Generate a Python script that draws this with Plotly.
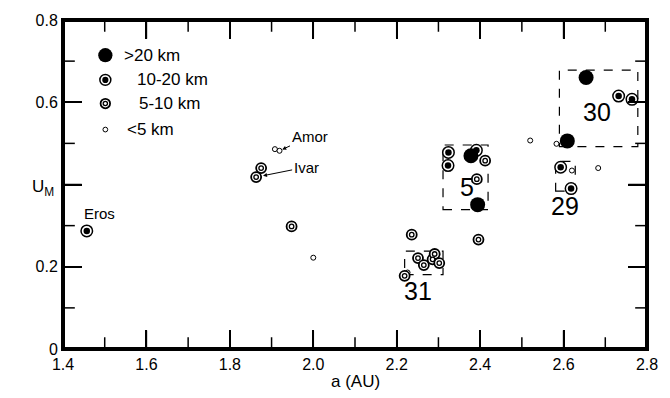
import plotly.graph_objects as go

# ---------------- data (semi-major axis a [AU], U_M) ----------------
# > 20 km
a_gt20 = [2.378, 2.394, 2.654, 2.609]
u_gt20 = [0.470, 0.351, 0.660, 0.506]
# 10-20 km
a_10_20 = [1.457, 2.324, 2.323, 2.391, 2.732, 2.764, 2.593, 2.618]
u_10_20 = [0.287, 0.478, 0.446, 0.483, 0.615, 0.607, 0.442, 0.390]
# 5-10 km
a_5_10 = [1.863, 1.875, 1.948, 2.236, 2.219, 2.396, 2.412, 2.392,
          2.251, 2.265, 2.286, 2.291, 2.302]
u_5_10 = [0.418, 0.440, 0.298, 0.278, 0.178, 0.266, 0.458, 0.413,
          0.221, 0.204, 0.218, 0.231, 0.209]
# < 5 km
a_lt5 = [1.908, 1.919, 2.000, 2.520, 2.583, 2.620, 2.683, 2.226]
u_lt5 = [0.486, 0.482, 0.222, 0.507, 0.499, 0.434, 0.440, 0.186]

# named objects
named = ["Eros", "Amor", "Ivar"]
named_a = [1.457, 1.919, 1.863]
named_u = [0.287, 0.482, 0.418]

# family groups (dashed boxes)
group_names = ["31", "5", "29", "30"]
group_a0 = [2.219, 2.311, 2.581, 2.590]
group_a1 = [2.311, 2.419, 2.628, 2.778]
group_u0 = [0.181, 0.339, 0.384, 0.492]
group_u1 = [0.238, 0.496, 0.456, 0.678]

legend_labels = [">20 km", "10-20 km", "5-10 km", "<5 km"]

x_ticks = [1.4, 1.6, 1.8, 2.0, 2.2, 2.4, 2.6, 2.8]
x_ticktext = ["1.4", "1.6", "1.8", "2.0", "2.2", "2.4", "2.6", "2.8"]
x_minor = [1.5, 1.7, 1.9, 2.1, 2.3, 2.5, 2.7]
y_ticks = [0, 0.2, 0.4, 0.6, 0.8]
y_ticktext = ["0", "0.2", "", "0.6", "0.8"]
y_minor = [0.1, 0.3, 0.5, 0.7]

X_RANGE = [1.4, 2.8]
Y_RANGE = [0, 0.8]

# ---------------- style ----------------
FONT = "Liberation Sans, Arial, sans-serif"
BLK = "#000000"
W, H = 670, 398
M = dict(l=63, r=14, t=13, b=49)
PW = W - M["l"] - M["r"]
PH = H - M["t"] - M["b"]
MAJ_LEN, MIN_LEN = 19, 12  # tick lengths in px

STYLES = {
    ">20 km": [(15, BLK, 0)],
    "10-20 km": [(11.5, "white", 1.5), (6.5, BLK, 0)],
    "5-10 km": [(10, "white", 1.8), (4.5, "white", 1.3)],
    "<5 km": [(5, "white", 1)],
}
DATA = {
    "<5 km": (a_lt5, u_lt5),
    "5-10 km": (a_5_10, u_5_10),
    "10-20 km": (a_10_20, u_10_20),
    ">20 km": (a_gt20, u_gt20),
}

fig = go.Figure()

# ---- frame and inside ticks (drawn from the axis ranges and tick lists) ----
dx_per_px = (X_RANGE[1] - X_RANGE[0]) / PW
dy_per_px = (Y_RANGE[1] - Y_RANGE[0]) / PH
tx, ty = [], []
for vals, L in ((x_ticks, MAJ_LEN), (x_minor, MIN_LEN)):
    for v in vals:
        tx += [v, v, None, v, v, None]
        ty += [Y_RANGE[0], Y_RANGE[0] + L * dy_per_px, None,
               Y_RANGE[1], Y_RANGE[1] - L * dy_per_px, None]
for vals, L in ((y_ticks, MAJ_LEN), (y_minor, MIN_LEN)):
    for v in vals:
        tx += [X_RANGE[0], X_RANGE[0] + L * dx_per_px, None,
               X_RANGE[1], X_RANGE[1] - L * dx_per_px, None]
        ty += [v, v, None, v, v, None]
fig.add_trace(go.Scatter(x=tx, y=ty, mode="lines", showlegend=False,
                         line=dict(color=BLK, width=1.5)))
fig.add_trace(go.Scatter(x=[X_RANGE[0], X_RANGE[1], X_RANGE[1], X_RANGE[0], X_RANGE[0]],
                         y=[Y_RANGE[0], Y_RANGE[0], Y_RANGE[1], Y_RANGE[1], Y_RANGE[0]],
                         mode="lines", showlegend=False, line=dict(color=BLK, width=4)))

# ---- data markers ----
for cls in ["<5 km", "5-10 km", "10-20 km", ">20 km"]:
    xs, ys = DATA[cls]
    for size, fill, lw in STYLES[cls]:
        fig.add_trace(go.Scatter(x=xs, y=ys, mode="markers", showlegend=False,
                                 marker=dict(size=size, color=fill,
                                             line=dict(color=BLK, width=lw))))

# ---- legend keys on an overlay axis spanning the plot area (0..1) ----
leg_x = 0.0725
leg_y = [0.893, 0.818, 0.746, 0.667]
leg_text_x = [0.101, 0.123, 0.126, 0.106]
for lab, ly in zip(legend_labels, leg_y):
    for size, fill, lw in STYLES[lab]:
        fig.add_trace(go.Scatter(x=[leg_x], y=[ly], xaxis="x2", yaxis="y2", mode="markers",
                                 showlegend=False,
                                 marker=dict(size=size * 0.95, color=fill,
                                             line=dict(color=BLK, width=lw))))

shapes = []
annotations = []

for x0, x1, y0, y1 in zip(group_a0, group_a1, group_u0, group_u1):
    shapes.append(dict(type="rect", xref="x", yref="y", x0=x0, x1=x1, y0=y0, y1=y1,
                       line=dict(color=BLK, width=1.2, dash="dash"), layer="below"))

group_label_pos = {
    "31": dict(x=2.250, y=0.140),
    "5": dict(x=2.368, y=0.395),
    "29": dict(x=2.604, y=0.348),
    "30": dict(x=2.680, y=0.576),
}
for name in group_names:
    p = group_label_pos[name]
    annotations.append(dict(x=p["x"], y=p["y"], xref="x", yref="y", text=name,
                            showarrow=False, font=dict(size=25, color=BLK)))

annotations.append(dict(x=named_a[0], y=named_u[0], xref="x", yref="y", text="Eros",
                        showarrow=False, xanchor="left", xshift=-5, yshift=17,
                        font=dict(size=15, color=BLK)))
annotations.append(dict(x=named_a[1], y=named_u[1], xref="x", yref="y", text="Amor",
                        showarrow=True, arrowhead=2, arrowsize=0.8, arrowwidth=1,
                        arrowcolor=BLK, ax=30, ay=-14, standoff=3,
                        font=dict(size=15, color=BLK)))
annotations.append(dict(x=named_a[2], y=named_u[2], xref="x", yref="y", text="Ivar",
                        showarrow=True, arrowhead=2, arrowsize=0.8, arrowwidth=1,
                        arrowcolor=BLK, ax=50, ay=-10, standoff=7,
                        font=dict(size=15, color=BLK)))

for lab, tyy, txx in zip(legend_labels, leg_y, leg_text_x):
    annotations.append(dict(x=txx, y=tyy, xref="paper", yref="paper", text=lab, showarrow=False,
                            xanchor="left", yanchor="middle",
                            font=dict(size=17, color=BLK)))

annotations.append(dict(x=-0.056, y=0.49, xref="paper", yref="paper", text="U<sub>M</sub>",
                        showarrow=False, font=dict(size=17, color=BLK)))
annotations.append(dict(x=0.5, y=-0.135, xref="paper", yref="paper", text="a (AU)",
                        showarrow=False, font=dict(size=17, color=BLK)))

fig.update_layout(
    width=W, height=H, margin=M,
    plot_bgcolor="white", paper_bgcolor="white",
    font=dict(family=FONT, size=16, color=BLK),
    shapes=shapes, annotations=annotations, showlegend=False, hovermode=False,
    xaxis=dict(range=X_RANGE, tickmode="array", tickvals=x_ticks, ticktext=x_ticktext,
               showgrid=False, zeroline=False, showline=True, linecolor=BLK, linewidth=2,
               mirror="ticks", ticks="inside", ticklen=MAJ_LEN, tickwidth=1.5, tickcolor=BLK),
    yaxis=dict(range=Y_RANGE, tickmode="array", tickvals=y_ticks, ticktext=y_ticktext,
               showgrid=False, zeroline=False, showline=True, linecolor=BLK, linewidth=2,
               mirror="ticks", ticks="inside", ticklen=MAJ_LEN, tickwidth=1.5, tickcolor=BLK),
    xaxis2=dict(range=[0, 1], overlaying="x", visible=False, fixedrange=True),
    yaxis2=dict(range=[0, 1], overlaying="y", visible=False, fixedrange=True),
)

fig.write_html("out.html", config={"displayModeBar": False},
               post_script="document.body.style.margin='0';")
